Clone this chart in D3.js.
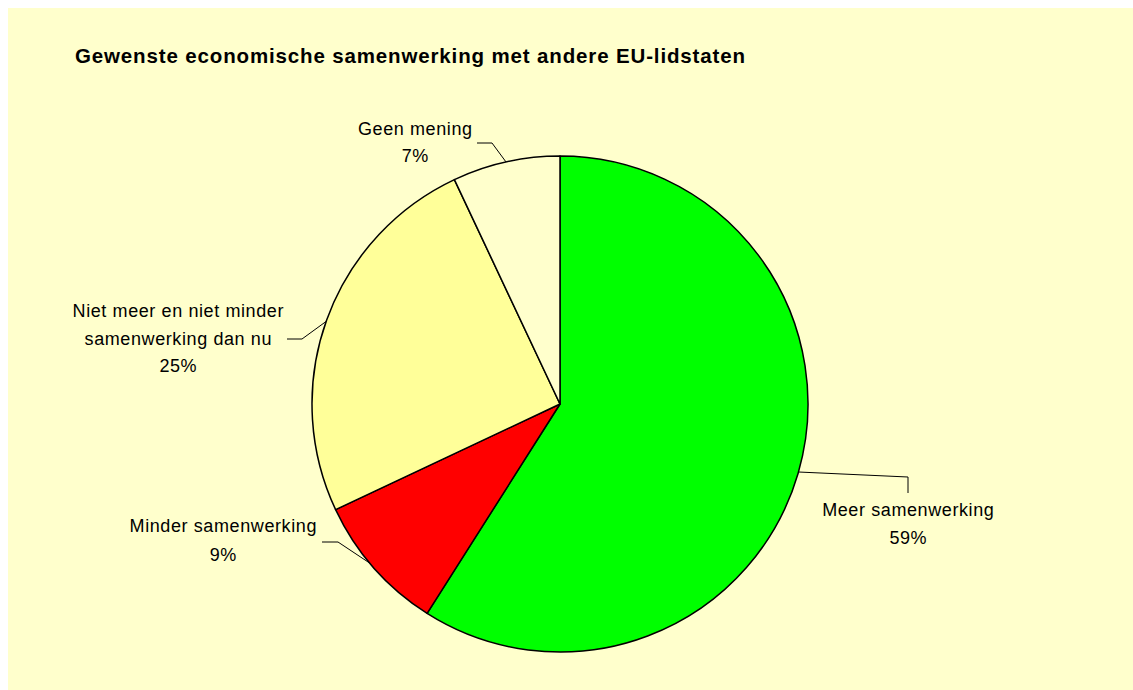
<!DOCTYPE html>
<html>
<head>
<meta charset="utf-8">
<script src="https://cdn.jsdelivr.net/npm/d3@7"></script>
<style>
  html, body { margin: 0; padding: 0; background: #ffffff; }
  svg { display: block; }
  text { font-family: "Liberation Sans", Arial, sans-serif; fill: #000; }
</style>
</head>
<body>
<svg id="chart" width="1133" height="690"></svg>
<script>
const title = "Gewenste economische samenwerking met andere EU-lidstaten";
const categories = ["Meer samenwerking", "Minder samenwerking", "Niet meer en niet minder samenwerking dan nu", "Geen mening"];
const values = [59, 9, 25, 7];
const colors = ["#00ff00", "#ff0000", "#ffff99", "#ffffcc"];
const labelLines = [
  ["Meer samenwerking", "59%"],
  ["Minder samenwerking", "9%"],
  ["Niet meer en niet minder", "samenwerking dan nu", "25%"],
  ["Geen mening", "7%"]
];

const svg = d3.select("#chart");
svg.append("rect").attr("x", 8).attr("y", 8).attr("width", 1125).attr("height", 682).attr("fill", "#ffffcc");

svg.append("text").attr("x", 75).attr("y", 63)
  .attr("font-size", 20.5).attr("font-weight", "bold")
  .attr("textLength", 670).attr("lengthAdjust", "spacing")
  .text(title);

const cx = 560, cy = 404, r = 248;
const pie = d3.pie().sort(null).value(d => d)(values);
const arc = d3.arc().innerRadius(0).outerRadius(r);
const g = svg.append("g").attr("transform", `translate(${cx},${cy})`);
g.selectAll("path").data(pie).join("path")
  .attr("d", arc)
  .attr("fill", (d, i) => colors[i])
  .attr("stroke", "#000").attr("stroke-width", 1.5).attr("stroke-linejoin", "round");

// label layout (center x, first baseline y, line spacing) and leader elbows
const labelPos = [
  {x: 908, y: 516, lh: 28, lead: [[908, 493], [908, 477]]},
  {x: 223, y: 532, lh: 28.5, lead: [[322, 542], [338, 542]]},
  {x: 178, y: 317, lh: 27.5, lead: [[287, 339], [302, 339]]},
  {x: 415, y: 135, lh: 27, lead: [[477, 143], [492, 143]]}
];

// Leader end points lie on the arc
const leaderTargets = [
  Math.atan2(473 - cy, 802 - cx),
  Math.atan2(563 - cy, 370 - cx),
  Math.atan2(321 - cy, 325 - cx),
  Math.atan2(162 - cy, 506 - cx)
];

labelPos.forEach((p, i) => {
  const t = svg.append("text").attr("text-anchor", "middle").attr("font-size", 18)
    .attr("letter-spacing", 0.6);
  labelLines[i].forEach((line, j) => {
    t.append("tspan").attr("x", p.x + 0.3).attr("y", p.y + j * p.lh).text(line);
  });
  const a = leaderTargets[i];
  const end = [cx + r * Math.cos(a), cy + r * Math.sin(a)];
  const pts = [p.lead[0], p.lead[1], end];
  svg.append("path").attr("d", d3.line()(pts))
    .attr("fill", "none").attr("stroke", "#000").attr("stroke-width", 1);
});
</script>
</body>
</html>
